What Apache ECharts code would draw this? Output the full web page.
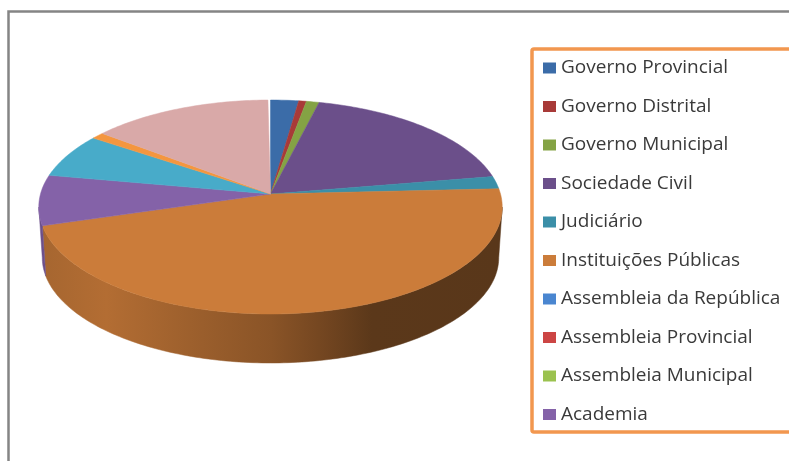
<!DOCTYPE html>
<html>
<head>
<meta charset="utf-8">
<script src="https://cdn.jsdelivr.net/npm/echarts@6/dist/echarts.min.js"></script>
<style>html,body{margin:0;padding:0;background:#fff}#c{width:789px;height:461px}</style>
</head>
<body>
<div id="c"></div>
<script>
// Slice names in drawing order, clockwise from twelve o'clock
const categories = ['Governo Provincial','Governo Distrital','Governo Municipal','Sociedade Civil','Judiciário',
  'Instituições Públicas','Assembleia da República','Assembleia Provincial','Assembleia Municipal','Academia',
  'Outros A','Outros B','Outros C'];
// Share of the total per slice, in percent
const shares = [2.2,0.6,1.0,18.5,1.9,46.1,0,0,0,7.6,6.7,1.0,14.2];
const colors = ['#3b6ca8','#a83a38','#84a344','#6b4f8a','#3b8fa8','#cb7c3a','#4a86d0','#cc4544','#9bc24f','#8462a8','#48abc9','#f4963f','#d9a9a8'];
// The legend box lists only the first ten names
const legendNames = categories.slice(0, 10);

// Disc projection: a tilted circle seen in perspective, so the apex sits above the ellipse middle
const cx = 270.5, apexY = 194, halfW = 230, halfH = 105.4, persp = 0.1215;
const wallDrop = 50.8, wallScale = 0.985;
const wallFrom = 97, wallTo = 263;

function rimPoint(deg) {
  const t = deg * Math.PI / 180, u = Math.sin(t), v = -Math.cos(t), d = 1 - persp * v;
  return [cx + halfW * u / d, apexY + halfH * v / d];
}
function lowerPoint(deg) {
  const p = rimPoint(deg);
  return [cx + (p[0] - cx) * wallScale, apexY + (p[1] - apexY) * wallScale + wallDrop];
}
function arc(from, to, fn) {
  const pts = [];
  for (let a = from; a < to; a += 1) pts.push(fn(a));
  pts.push(fn(to));
  return pts;
}
function shade(hex, f) {
  const n = parseInt(hex.slice(1), 16);
  const c = [n >> 16, (n >> 8) & 255, n & 255].map(x => Math.round(x * f));
  return `rgb(${c[0]},${c[1]},${c[2]})`;
}
// Side wall lighting runs left to right and falls off towards the right
const wallLight = [[0,0.82],[0.14,0.88],[0.35,0.76],[0.5,0.68],[0.62,0.56],[0.72,0.45],[1,0.44]];
function wallFill(hex) {
  return { type:'linear', global:true, x:42, y:0, x2:500, y2:0,
    colorStops: wallLight.map(s => ({ offset:s[0], color:shade(hex, s[1]) })) };
}

let running = 0;
const series = categories.map((name, i) => {
  const start = running / 100 * 360;
  running += shares[i];
  const end = running / 100 * 360;
  return {
    type:'custom', name, coordinateSystem:'none', silent:true, animation:false,
    itemStyle:{ color:colors[i] },
    data:[[start, end]],
    renderItem(params, api) {
      const a = api.value(0), b = api.value(1);
      if (b <= a) return { type:'group', children:[] };
      const children = [];
      const wa = Math.max(a, wallFrom), wb = Math.min(b, wallTo);
      if (wb > wa) {
        const fill = wallFill(colors[i]);
        children.push({ type:'polygon',
          shape:{ points: arc(wa, wb, rimPoint).concat(arc(wa, wb, lowerPoint).reverse()) },
          style:{ fill, stroke:fill, lineWidth:0.5 } });
      }
      children.push({ type:'polygon',
        shape:{ points: [[cx, apexY]].concat(arc(a, b, rimPoint)) },
        style:{ fill:colors[i], stroke:colors[i], lineWidth:0.5 } });
      return { type:'group', children };
    }
  };
});

const chart = echarts.init(document.getElementById('c'), null, { renderer:'canvas' });
chart.setOption({
  animation:false,
  backgroundColor:'#ffffff',
  graphic:[
    { type:'rect', z:-10, shape:{ x:8.5, y:11.5, width:900, height:700 },
      style:{ fill:'#ffffff', stroke:'#858585', lineWidth:2.5 } },
    { type:'rect', z:-9, shape:{ x:532, y:49, width:400, height:383, r:2 },
      style:{ fill:'#ffffff', stroke:'#f2974f', lineWidth:3.5 } }
  ],
  legend:{
    data:legendNames, orient:'vertical', left:543, top:58, padding:0, selectedMode:false,
    icon:'rect', itemWidth:13, itemHeight:11, itemGap:18.5,
    textStyle:{ fontFamily:'Open Sans', fontSize:19, lineHeight:20, color:'#3a3a3a' }
  },
  series
});
</script>
</body>
</html>
